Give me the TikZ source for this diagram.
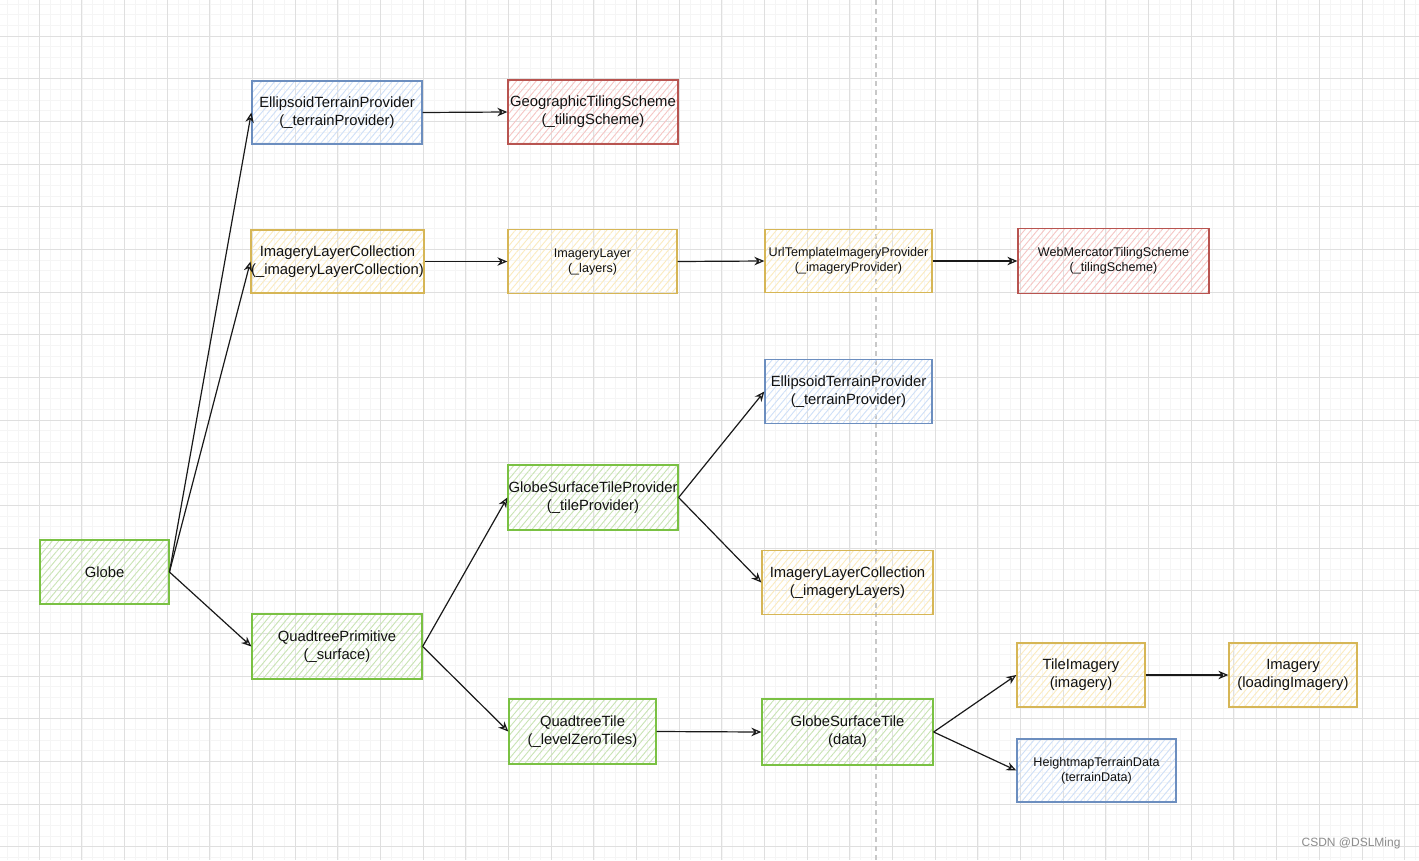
\documentclass[tikz,border=0pt]{standalone}
\usepackage{fontspec}
\setmainfont{Liberation Sans}
\usetikzlibrary{arrows.meta,patterns.meta}
\definecolor{gminor}{HTML}{F5F5F5}
\definecolor{gmajor}{HTML}{DFDFDF}
\definecolor{pagebrk}{HTML}{C8C8C8}
\definecolor{grS}{HTML}{7AC143}
\definecolor{grF}{HTML}{C9E4B4}
\definecolor{blS}{HTML}{6C8EBF}
\definecolor{blF}{HTML}{CFE0F8}
\definecolor{ylS}{HTML}{D6B656}
\definecolor{ylF}{HTML}{FBEBBE}
\definecolor{rdS}{HTML}{B85450}
\definecolor{rdF}{HTML}{F5C6C4}
\definecolor{txt}{HTML}{111111}
\tikzset{
  gridminor/.style={gminor, line width=0.7pt},
  gridmajor/.style={gmajor, line width=0.9pt},
  box/.style={draw, line width=1.3pt, align=center, inner sep=0pt, text=txt,
     font=\fontsize{14.8}{17.8}\selectfont},
  small/.style={font=\fontsize{12.6}{15}\selectfont},
  green/.style={box, draw=grS, pattern={Lines[angle=50,distance=5pt,line width=0.9pt]}, pattern color=grF},
  blue/.style={box, draw=blS, pattern={Lines[angle=50,distance=5pt,line width=0.9pt]}, pattern color=blF},
  yellow/.style={box, draw=ylS, pattern={Lines[angle=50,distance=5pt,line width=0.9pt]}, pattern color=ylF},
  red/.style={box, draw=rdS, pattern={Lines[angle=50,distance=5pt,line width=0.9pt]}, pattern color=rdF},
  conn/.style={draw=black!90, line width=1.2pt, -{Stealth[open,length=10pt,width=8.5pt]}}
}
\begin{document}
\begin{tikzpicture}[x=1pt,y=-1pt]
\useasboundingbox (0,0) rectangle (1419,860);
\fill[white] (0,0) rectangle (1419,860);
% grid
\foreach \i in {0,...,134}{
  \pgfmathsetmacro\xx{-3.4+10.6667*\i}
  \draw[gridminor] (\xx,0) -- (\xx,860);}
\foreach \j in {0,...,82}{
  \pgfmathsetmacro\yy{-6.67+10.6667*\j}
  \draw[gridminor] (0,\yy) -- (1419,\yy);}
\foreach \i in {0,...,34}{
  \pgfmathsetmacro\xx{-3.4+42.6667*\i}
  \draw[gridmajor] (\xx,0) -- (\xx,860);}
\foreach \j in {0,...,21}{
  \pgfmathsetmacro\yy{-6.67+42.6667*\j}
  \draw[gridmajor] (0,\yy) -- (1419,\yy);}
\draw[pagebrk, line width=1.2pt, dash pattern=on 5pt off 4pt] (876,0) -- (876,860);

% nodes
\node[green, minimum width=129pt, minimum height=64pt] (globe) at (104.5,572) {Globe};
\node[blue, minimum width=170pt, minimum height=63pt] (etp1) at (337,112.5) {EllipsoidTerrainProvider\\(\_terrainProvider)};
\node[red, minimum width=170pt, minimum height=64pt] (gts) at (593,112) {GeographicTilingScheme\\(\_tilingScheme)};
\node[yellow, minimum width=171pt, minimum height=63pt] (ilc1) at (337.5,261.5) {ImageryLayerCollection\\(\_imageryLayerCollection)};
\node[yellow, small, minimum width=169pt, minimum height=64pt] (il) at (592.5,261.5) {ImageryLayer\\(\_layers)};
\node[yellow, small, minimum width=167pt, minimum height=63pt] (utip) at (848.5,261) {UrlTemplateImageryProvider\\(\_imageryProvider)};
\node[red, small, minimum width=191pt, minimum height=65pt] (wmts) at (1113.5,261) {WebMercatorTilingScheme\\(\_tilingScheme)};
\node[blue, minimum width=167pt, minimum height=64pt] (etp2) at (848.5,391.5) {EllipsoidTerrainProvider\\(\_terrainProvider)};
\node[green, minimum width=170pt, minimum height=65pt] (gstp) at (593,497.5) {GlobeSurfaceTileProvider\\(\_tileProvider)};
\node[yellow, minimum width=171pt, minimum height=64pt] (ilc2) at (847.5,582.5) {ImageryLayerCollection\\(\_imageryLayers)};
\node[green, minimum width=170pt, minimum height=65pt] (qp) at (337,646.5) {QuadtreePrimitive\\(\_surface)};
\node[green, minimum width=147pt, minimum height=65pt] (qt) at (582.5,731.5) {QuadtreeTile\\(\_levelZeroTiles)};
\node[green, minimum width=171pt, minimum height=66pt] (gst) at (847.5,732) {GlobeSurfaceTile\\(data)};
\node[yellow, minimum width=128pt, minimum height=64pt] (ti) at (1081,675) {TileImagery\\(imagery)};
\node[yellow, minimum width=128pt, minimum height=64pt] (img) at (1293,675) {Imagery\\(loadingImagery)};
\node[blue, small, minimum width=159pt, minimum height=63pt] (htd) at (1096.5,770.5) {HeightmapTerrainData\\(terrainData)};
\node[text=black!45, font=\fontsize{12}{14}\selectfont, anchor=east] (wm) at (1404,843) {CSDN @DSLMing};

% connectors
\draw[conn] (globe.east) -- (etp1.west);
\draw[conn] (globe.east) -- (ilc1.west);
\draw[conn] (globe.east) -- (qp.west);
\draw[conn] (etp1.east) -- (gts.west);
\draw[conn] (ilc1.east) -- (il.west);
\draw[conn] (il.east) -- (utip.west);
\draw[conn] (utip.east) -- (wmts.west);
\draw[conn] (qp.east) -- (gstp.west);
\draw[conn] (qp.east) -- (qt.west);
\draw[conn] (gstp.east) -- (etp2.west);
\draw[conn] (gstp.east) -- (ilc2.west);
\draw[conn] (qt.east) -- (gst.west);
\draw[conn] (gst.east) -- (ti.west);
\draw[conn] (gst.east) -- (htd.west);
\draw[conn] (ti.east) -- (img.west);
\end{tikzpicture}
\end{document}
